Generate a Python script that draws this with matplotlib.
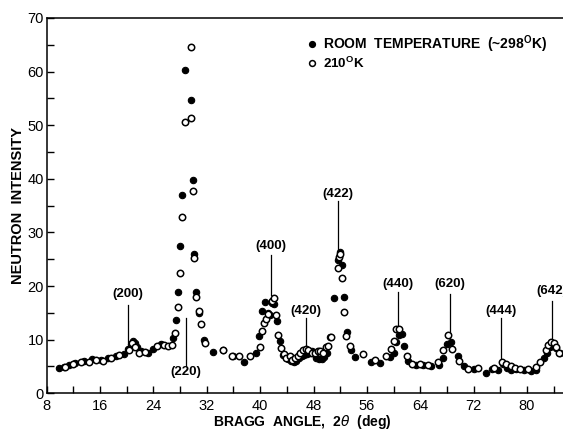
import matplotlib
matplotlib.use("Agg")
import matplotlib.pyplot as plt

plt.rcParams['font.family'] = ['Liberation Sans', 'DejaVu Sans']

# Room temperature scan (filled circles): Bragg angle 2-theta (deg), intensity
rt_angle = [9.8, 10.6, 11.4, 12.2, 13.6, 14.8, 16.2, 17.2, 18.4, 19.6, 20.2, 20.6,
            20.9, 21.2, 21.5, 22.2, 23.2, 24.0, 25.2, 27.0, 27.4, 27.7, 28.0, 28.3,
            28.8, 29.6, 29.9, 30.1, 30.4, 30.8, 31.6, 33.0, 34.4, 36.0, 37.6, 39.4,
            39.8, 40.3, 40.7, 41.1, 41.5, 41.8, 42.1, 42.5, 43.0, 43.4, 43.8, 44.2,
            44.6, 45.0, 45.4, 45.8, 46.2, 46.6, 47.0, 47.4, 47.8, 48.4, 48.8, 49.2,
            49.6, 50.0, 50.4, 51.0, 51.6, 52.0, 52.3, 52.6, 53.0, 53.6, 54.2, 56.6,
            58.0, 59.4, 60.0, 60.4, 60.8, 61.2, 61.6, 62.2, 63.4, 64.4, 65.6, 66.8,
            67.4, 68.0, 68.6, 69.6, 70.6, 72.0, 73.8, 74.8, 75.6, 76.4, 77.0, 77.6,
            78.4, 79.6, 80.6, 81.4, 82.6, 83.0, 83.4, 83.8, 84.4, 85.0]
rt_counts = [4.8, 4.9, 5.3, 5.6, 6.0, 6.4, 6.2, 6.6, 7.0, 7.4, 8.3, 9.2,
             9.8, 9.3, 8.7, 7.8, 7.5, 8.2, 9.2, 10.4, 13.6, 18.8, 27.5, 37.0,
             60.2, 54.7, 39.8, 26.0, 18.8, 14.9, 10.0, 7.7, 8.0, 6.9, 5.8, 7.6,
             10.6, 15.3, 17.0, 15.0, 14.6, 16.8, 16.6, 13.5, 9.8, 7.2, 6.8, 6.4,
             6.0, 5.8, 6.1, 6.5, 6.9, 7.2, 7.3, 7.6, 7.8, 6.6, 6.4, 6.4,
             6.8, 7.5, 10.5, 17.8, 24.8, 26.3, 24.0, 18.0, 11.5, 8.0, 6.8, 5.9,
             5.7, 6.8, 7.5, 9.6, 10.8, 11.0, 8.8, 6.0, 5.3, 5.2, 5.0, 5.2,
             6.5, 9.2, 9.5, 6.9, 5.0, 4.6, 3.8, 4.5, 4.4, 5.4, 4.8, 4.4,
             4.6, 4.3, 4.2, 4.3, 6.5, 7.6, 8.6, 9.0, 8.4, 7.6]

# 210 K scan (open circles)
lt_angle = [10.8, 12.0, 13.2, 14.4, 15.4, 16.4, 17.6, 18.8, 20.4, 20.8, 21.2, 21.8,
            22.8, 24.6, 25.6, 26.2, 26.8, 27.3, 27.7, 28.0, 28.3, 28.7, 29.6, 29.7,
            30.0, 30.1, 30.4, 30.8, 31.2, 31.8, 34.4, 35.8, 36.8, 38.4, 39.9, 40.2,
            40.5, 40.8, 41.2, 41.7, 42.0, 42.3, 42.7, 43.1, 43.5, 43.9, 44.4, 44.8,
            45.2, 45.6, 46.0, 46.4, 46.8, 47.2, 47.8, 48.2, 48.6, 49.0, 49.4, 49.8,
            50.2, 50.6, 51.6, 51.8, 52.0, 52.3, 52.6, 52.8, 53.4, 55.4, 57.2, 58.8,
            59.6, 60.0, 60.4, 60.8, 62.0, 62.8, 64.0, 65.2, 66.6, 67.4, 68.2, 68.8,
            69.8, 71.2, 72.6, 75.0, 76.2, 76.8, 77.6, 78.2, 79.0, 80.2, 81.4, 82.0,
            82.8, 83.2, 83.6, 84.0, 84.4, 84.8]
lt_counts = [4.9, 5.4, 5.8, 5.9, 6.3, 6.0, 6.5, 7.2, 8.0, 9.3, 8.6, 7.6,
             7.7, 8.9, 9.0, 8.8, 9.0, 11.3, 16.0, 22.4, 32.8, 50.5, 64.5, 51.3,
             37.8, 25.2, 18.0, 15.3, 12.9, 9.3, 8.0, 7.0, 7.0, 6.9, 8.6, 11.6,
             13.2, 13.8, 14.8, 17.2, 17.8, 14.6, 10.8, 8.4, 7.4, 6.6, 6.9, 6.2,
             6.6, 7.0, 7.6, 8.1, 8.3, 8.0, 7.6, 7.6, 7.8, 7.9, 7.5, 8.6,
             8.9, 10.5, 23.4, 25.5, 25.9, 21.5, 15.1, 10.6, 8.9, 7.3, 6.2, 7.0,
             8.2, 9.7, 12.0, 12.0, 7.0, 5.4, 5.4, 5.2, 5.8, 8.0, 10.8, 8.2,
             6.0, 4.6, 4.8, 4.8, 5.9, 5.5, 5.0, 4.8, 4.6, 4.6, 4.9, 5.9,
             8.0, 9.0, 9.6, 9.3, 8.6, 7.6]

# Reflection labels: name, angle, marker line top/bottom and label height
peak_names = ['(200)', '(220)', '(400)', '(420)', '(422)', '(440)', '(620)', '(444)', '(642)']
peak_angle = [20.2, 28.9, 41.6, 46.8, 51.7, 60.6, 68.5, 76.1, 83.8]
line_top = [16.5, 14.0, 25.8, 14.0, 35.8, 18.8, 18.6, 14.0, 17.2]
line_bot = [9.5, 5.0, 18.3, 6.9, 26.9, 10.4, 10.4, 5.5, 9.5]
label_y = [18.5, 4.0, 27.4, 15.4, 37.2, 20.4, 20.4, 15.4, 19.1]

x_ticks = [8, 16, 24, 32, 40, 48, 56, 64, 72, 80]
y_ticks = [0, 10, 20, 30, 40, 50, 60, 70]

fig = plt.figure(figsize=(5.63, 4.32), dpi=100)
ax = fig.add_axes([0.083, 0.0896, 0.917, 0.869])

ax.plot(rt_angle, rt_counts, 'o', ms=4.6, mfc='black', mec='black', mew=0.8,
        linestyle='none', zorder=3)
ax.plot(lt_angle, lt_counts, 'o', ms=4.6, mfc='white', mec='black', mew=1.1,
        linestyle='none', zorder=4)

for name, a, t, b, ly in zip(peak_names, peak_angle, line_top, line_bot, label_y):
    ax.plot([a, a], [b, t], color='black', lw=0.9, zorder=2)
    ax.text(a, ly, name, ha='center', va='center', fontsize=9.5,
            fontweight='bold', color='black')

ax.set_xlim(8, 85.4)
ax.set_ylim(0, 70)
ax.set_xticks(x_ticks)
ax.set_xticks(range(8, 86, 4), minor=True)
ax.set_yticks(y_ticks)
ax.set_yticks(range(5, 70, 10), minor=True)
ax.tick_params(which='both', direction='in', length=5, width=1, labelsize=10.5,
               colors='black')
ax.tick_params(axis='x', pad=4)
ax.tick_params(axis='y', pad=2)
ax.spines['right'].set_visible(False)
for s in ['left', 'bottom', 'top']:
    ax.spines[s].set_linewidth(1.1)

fig.text(0.537, 0.003, r'BRAGG  ANGLE,  2$\theta$  (deg)', ha='center', va='bottom',
         fontsize=10, fontweight='bold')
ax.set_ylabel('NEUTRON  INTENSITY', fontsize=10.5, fontweight='bold', labelpad=2)

# Legend drawn as markers plus text in axes coordinates
ax.plot([0.514], [0.930], 'o', transform=ax.transAxes, ms=4.2, mfc='black',
        mec='black', clip_on=False)
ax.plot([0.514], [0.880], 'o', transform=ax.transAxes, ms=4.2, mfc='white',
        mec='black', mew=1.1, clip_on=False)
ax.text(0.536, 0.930, r'ROOM  TEMPERATURE  (~298$^\mathregular{O}$K)',
        transform=ax.transAxes, ha='left', va='center', fontsize=10, fontweight='bold')
ax.text(0.536, 0.878, r'210$^\mathregular{O}$K', transform=ax.transAxes,
        ha='left', va='center', fontsize=9.6, fontweight='bold')

fig.savefig('out.png', dpi=100)
